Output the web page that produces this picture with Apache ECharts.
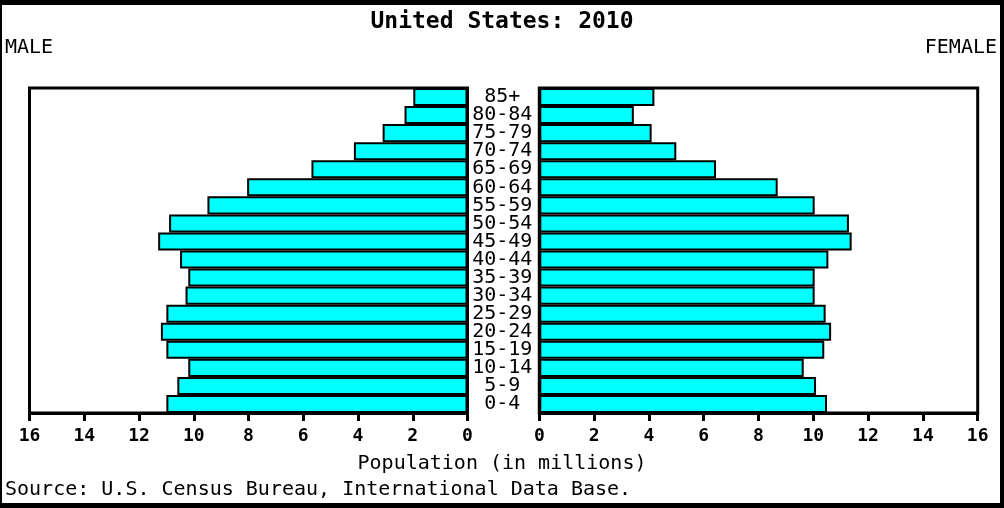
<!DOCTYPE html>
<html>
<head>
<meta charset="utf-8">
<script src="https://cdn.jsdelivr.net/npm/echarts@6/dist/echarts.min.js"></script>
<style>
html,body{margin:0;padding:0;background:#fff;}
#wrap{position:relative;width:1004px;height:508px;}
#c{position:absolute;left:0;top:0;width:1004px;height:508px;}
#frame{position:absolute;left:0;top:0;width:1004px;height:508px;box-sizing:border-box;border-style:solid;border-color:#000;border-width:5px 4px 5px 2px;pointer-events:none;}
</style>
</head>
<body>
<div id="wrap"><div id="c"></div><div id="frame"></div></div>
<script>
const titleText = 'United States: 2010';
const ageGroups = ['0-4','5-9','10-14','15-19','20-24','25-29','30-34','35-39','40-44','45-49','50-54','55-59','60-64','65-69','70-74','75-79','80-84','85+'];
const maleValues = [11.0,10.6,10.2,11.0,11.2,11.0,10.3,10.2,10.5,11.3,10.9,9.5,8.05,5.7,4.15,3.1,2.3,1.98];
const femaleValues = [10.5,10.1,9.65,10.4,10.65,10.45,10.05,10.05,10.55,11.4,11.3,10.05,8.7,6.45,5.0,4.1,3.45,4.2];
const xTicks = {min:0, max:16, interval:2};
const FONT = '"DejaVu Sans Mono", monospace';

const chart = echarts.init(document.getElementById('c'));
const xAxisCommon = {
  type:'value', min:xTicks.min, max:xTicks.max, interval:xTicks.interval,
  splitLine:{show:false},
  axisLine:{show:true, lineStyle:{color:'#000', width:3}},
  axisTick:{show:true, length:8, lineStyle:{color:'#000', width:3}},
  axisLabel:{color:'#000', fontFamily:FONT, fontSize:18, fontWeight:'bold', margin:14}
};
const barCommon = {
  type:'bar', barWidth:'100%', barCategoryGap:0, animation:false,
  itemStyle:{color:'#00FFFF', borderColor:'#000', borderWidth:2}
};
chart.setOption({
  animation:false,
  grid:[
    {left:29.5, top:88, width:438, height:325, show:true, borderColor:'#000', borderWidth:3, containLabel:false},
    {left:539.3, top:88, width:438.4, height:325, show:true, borderColor:'#000', borderWidth:3, containLabel:false}
  ],
  xAxis:[
    Object.assign({gridIndex:0, inverse:true}, xAxisCommon),
    Object.assign({gridIndex:1}, xAxisCommon)
  ],
  yAxis:[
    {type:'category', gridIndex:0, data:ageGroups, position:'right', axisLine:{show:false}, axisTick:{show:false}, axisLabel:{show:false}},
    {type:'category', gridIndex:1, data:ageGroups, position:'left', axisLine:{show:false}, axisTick:{show:false},
      axisLabel:{show:true, interval:0, align:'center', margin:37, color:'#000', fontFamily:FONT, fontSize:20, padding:[0,0,3,0]}}
  ],
  series:[
    Object.assign({xAxisIndex:0, yAxisIndex:0, data:maleValues}, barCommon),
    Object.assign({xAxisIndex:1, yAxisIndex:1, data:femaleValues}, barCommon)
  ],
  graphic:[
    {type:'text', left:'center', top:11, style:{text:titleText, font:'bold 23px '+FONT, fill:'#000'}},
    {type:'text', left:5, top:38, style:{text:'MALE', font:'20px '+FONT, fill:'#000'}},
    {type:'text', right:7, top:38, style:{text:'FEMALE', font:'20px '+FONT, fill:'#000'}},
    {type:'text', left:'center', top:454, style:{text:'Population (in millions)', font:'20px '+FONT, fill:'#000'}},
    {type:'text', left:5, top:480, style:{text:'Source: U.S. Census Bureau, International Data Base.', font:'20px '+FONT, fill:'#000'}}
  ]
});
</script>
</body>
</html>
